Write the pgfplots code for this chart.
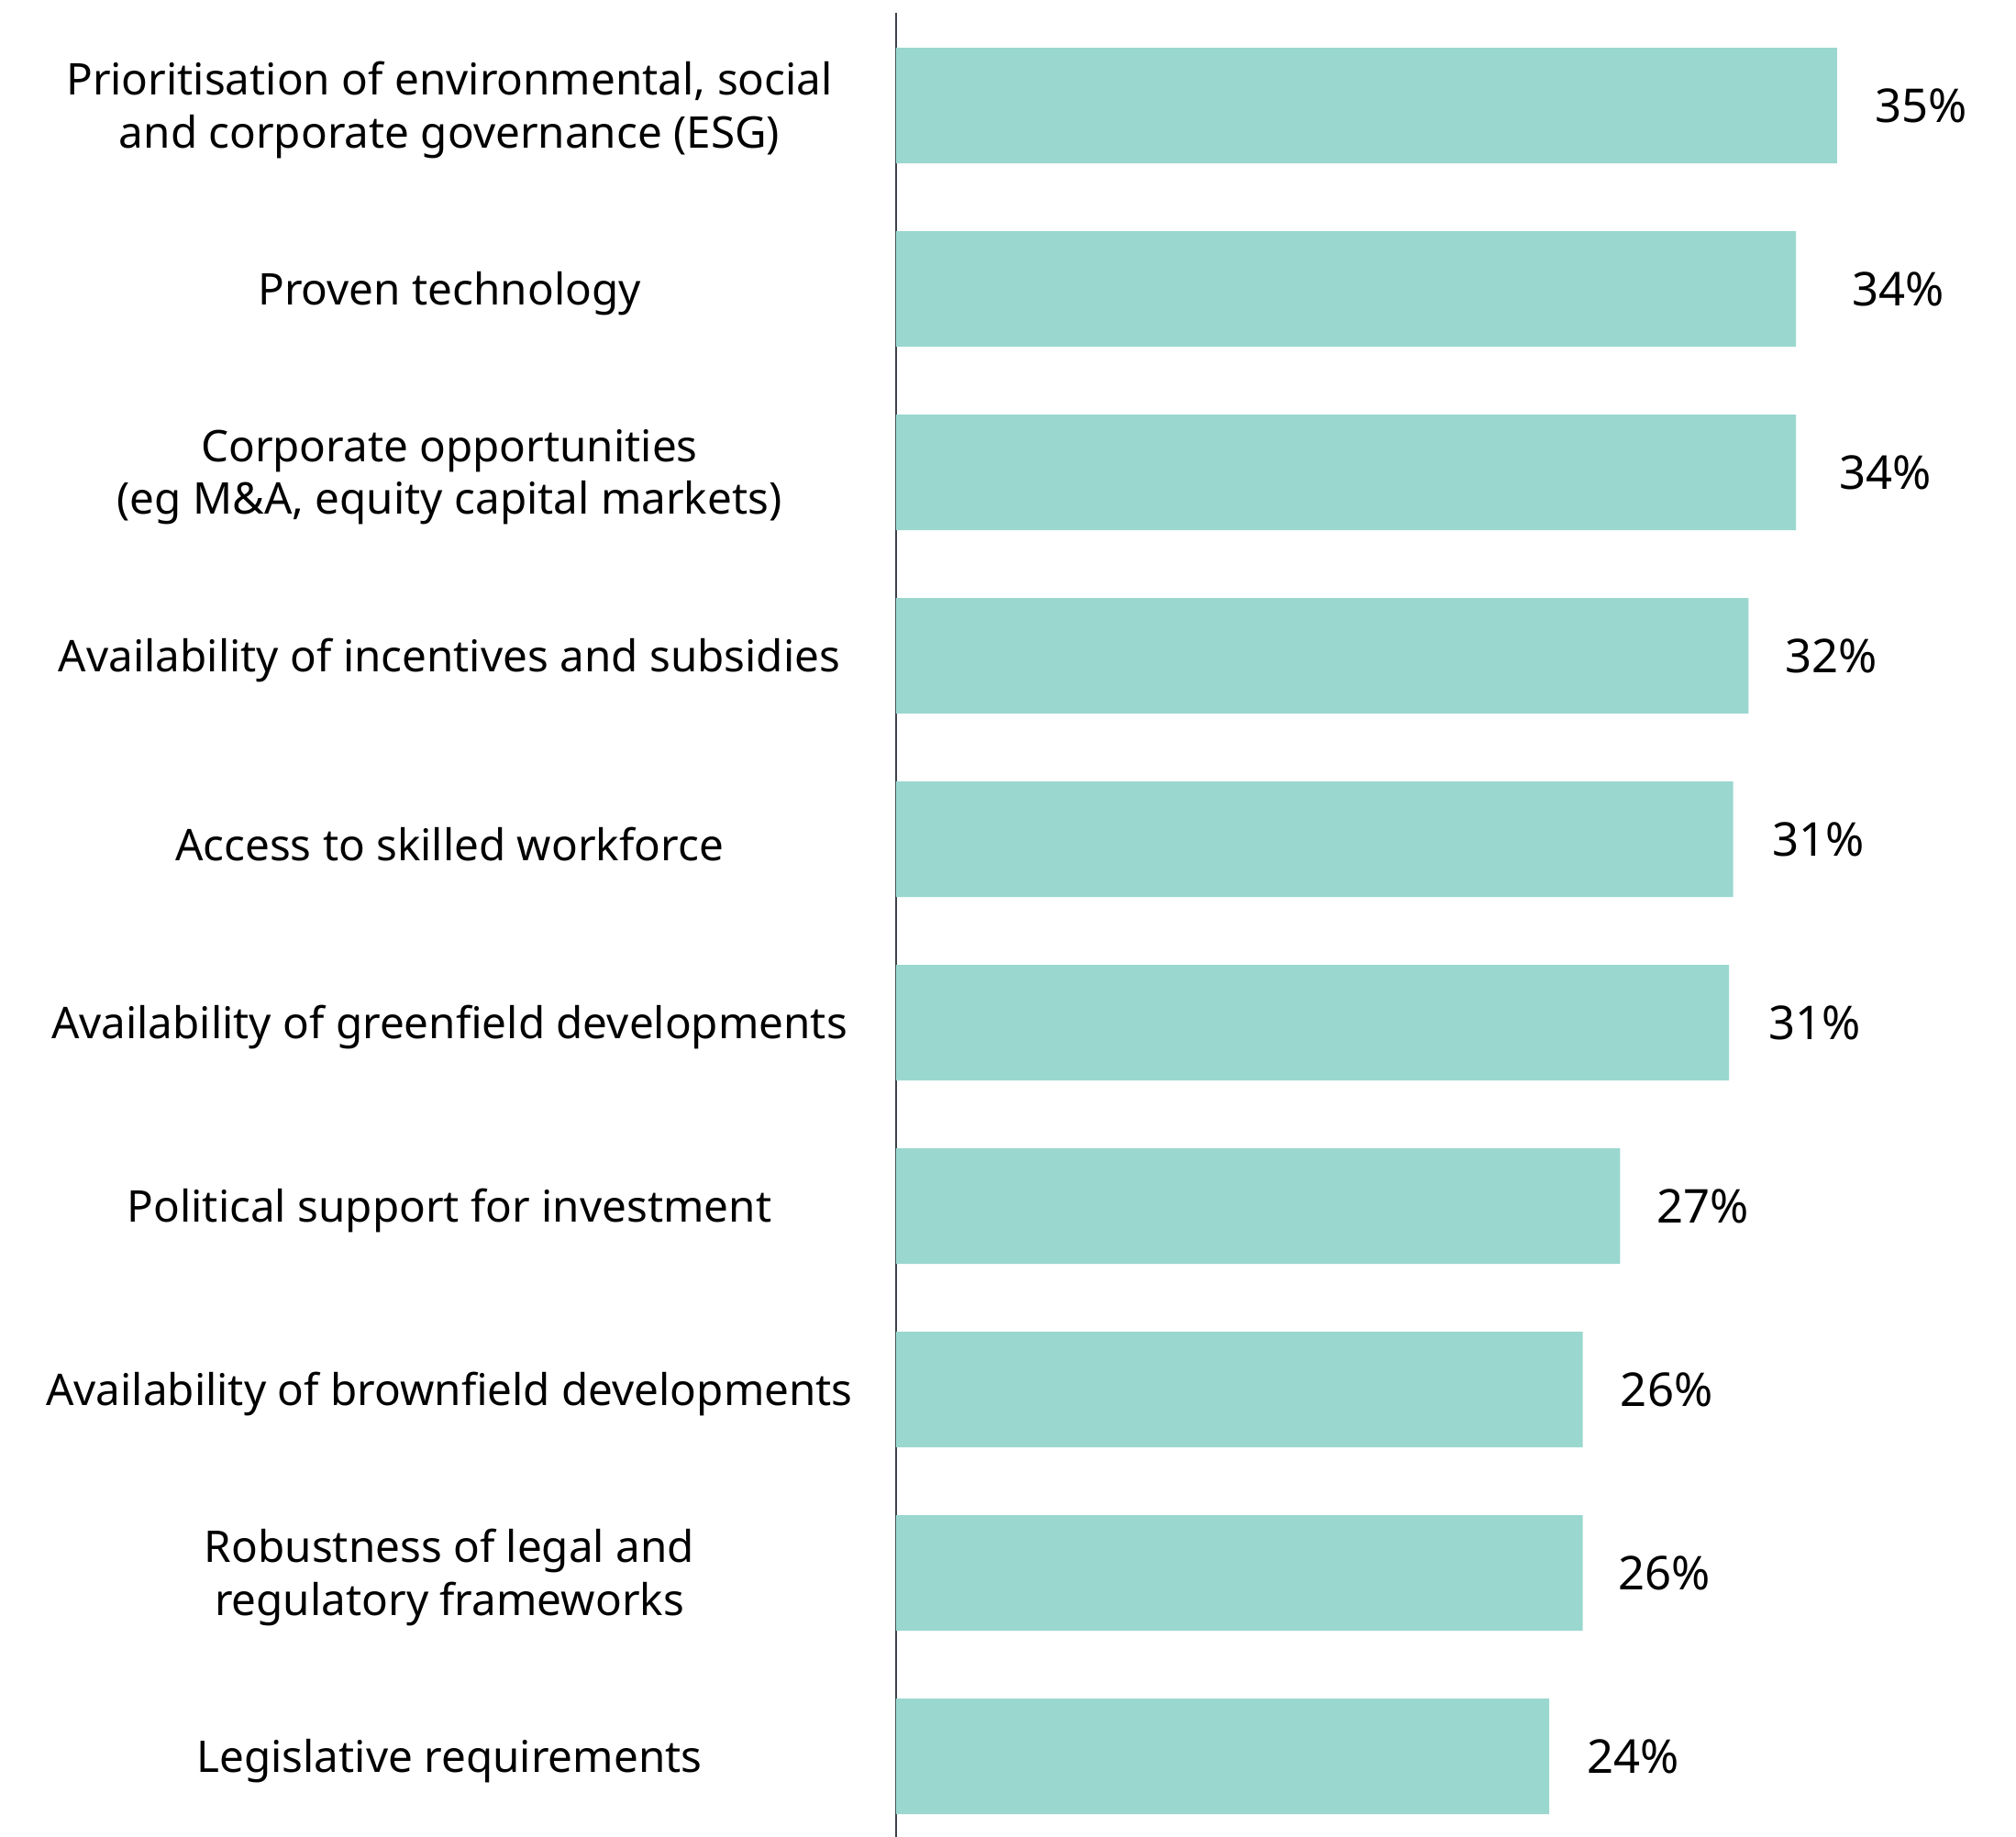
\documentclass[border=0pt]{standalone}
\usepackage{pgfplots}
\pgfplotsset{compat=1.18}
\usepackage{pgfplotstable}
\usepackage{fontspec}
\setmainfont{Noto Sans}
\definecolor{barc}{RGB}{154,215,207}
\definecolor{axc}{RGB}{60,66,72}
\pgfplotstableread{
y x lab off
0 35.02 35\% 10.16
1 33.49 34\% 15.06
2 33.49 34\% 11.56
3 31.72 32\% 9.81
4 31.15 31\% 10.51
5 31.00 31\% 10.51
6 26.94 27\% 9.81
7 25.55 26\% 10.16
8 25.55 26\% 9.46
9 24.31 24\% 10.16
}\datatable
\begin{document}
\begin{tikzpicture}
\useasboundingbox (0,0) rectangle (549.5pt,500.75pt);
\begin{axis}[
  at={(244.25pt,0pt)}, anchor=south west,
  scale only axis,
  width=292.98pt, height=497.25pt,
  xmin=0, xmax=40,
  ymin=-0.505, ymax=9.44,
  y dir=reverse,
  xbar, bar width=31.5pt, bar shift=0pt,
  axis x line=none,
  axis y line*=left,
  y axis line style={draw=axc, line width=0.6pt, -},
  ytick={0,...,9},
  major tick length=0pt,
  yticklabels={
    {Prioritisation of environmental, social\\and corporate governance (ESG)},
    {Proven technology},
    {Corporate opportunities\\(eg M\&A, equity capital markets)},
    {Availability of incentives and subsidies},
    {Access to skilled workforce},
    {Availability of greenfield developments},
    {Political support for investment},
    {Availability of brownfield developments},
    {Robustness of legal and\\regulatory frameworks},
    {Legislative requirements}},
  yticklabel style={anchor=center, xshift=-121.75pt, yshift=-1.3pt, align=center, font=\fontsize{11.9}{14.4}\selectfont, text=black},
  clip=false,
  nodes near coords,
  point meta=explicit symbolic,
  visualization depends on={\thisrow{off} \as \off},
  every node near coord/.append style={anchor=west, inner sep=0pt, xshift=\off pt, font=\fontsize{12.7}{15}\selectfont, text=black},
]
\addplot[fill=barc, draw=none] table[x=x, y=y, meta=lab] {\datatable};
\end{axis}
\end{tikzpicture}
\end{document}
